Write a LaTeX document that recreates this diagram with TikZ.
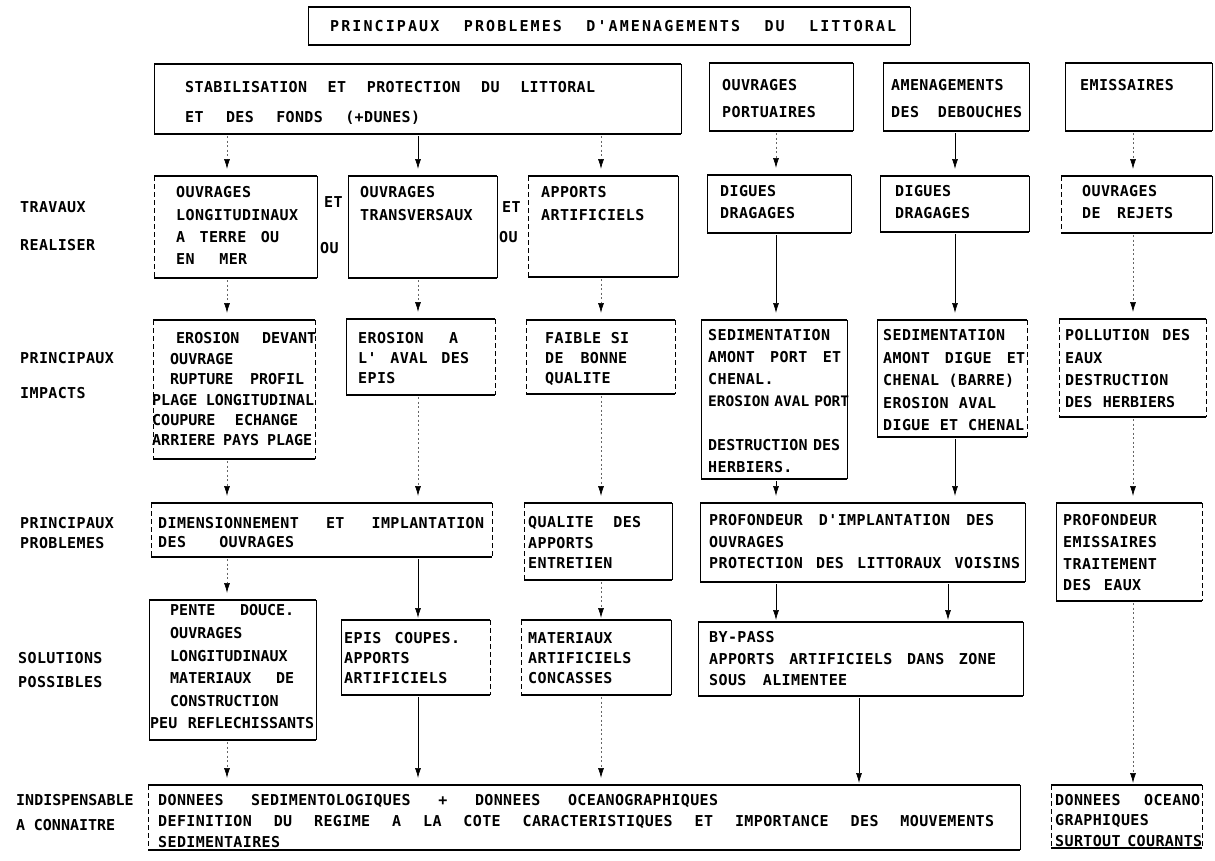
\documentclass[tikz,border=0pt]{standalone}
\usepackage{fontspec}
\usetikzlibrary{arrows.meta}
\newfontfamily\lt{DejaVu Sans Mono}[LetterSpace=2.5]
\newfontfamily\ltn{DejaVu Sans Mono}
\newfontfamily\ltw{DejaVu Sans Mono}[LetterSpace=14]
% a line of text spread to a given width (in pt) by its word spaces
\newcommand\fitline[2]{\makebox[#1pt][s]{\spaceskip 4pt plus 1fill minus 3pt\relax #2}}
% frame of a box: heavy top and bottom rules, side rules in the given styles
\newcommand\frameit[3]{%
  \draw[hl] (#1.north west) -- (#1.north east);
  \draw[hl] (#1.south west) -- (#1.south east);
  \draw[#2] (#1.north west) -- (#1.south west);
  \draw[#3] (#1.north east) -- (#1.south east);}
% box from its top-left and bottom-right corners
\newcommand\mkbox[7]{%
  \node[box, minimum width={(#4-#2)*1pt}, minimum height={(#5-#3)*1pt}] (#1) at (#2,#3) {};
  \frameit{#1}{#6}{#7}}
\tikzset{
  box/.style={rectangle, anchor=north west, inner sep=0pt, outer sep=0pt},
  hl/.style={line width=1.1pt},
  vs/.style={line width=0.75pt},
  vd/.style={line width=0.7pt, dash pattern=on 5pt off 3pt},
  txt/.style={anchor=north west, inner sep=0pt, align=left,
    font={\lt\bfseries\fontsize{15}{#1}\selectfont\spaceskip 13pt\relax\frenchspacing}},
  txt/.default=22,
  txtn/.style={anchor=north west, inner sep=0pt, align=left,
    font={\ltn\bfseries\fontsize{15}{#1}\selectfont\spaceskip 13pt\relax\frenchspacing}},
  txtn/.default=22,
  arr/.style={line width=0.7pt, -{Latex[length=10pt,width=6pt]}, shorten <=2pt, shorten >=7pt},
  arrd/.style={arr, draw=black!60, dash pattern=on 2pt off 2.5pt,
    -{Latex[length=10pt,width=6pt,color=black]}},
  closegap/.style={shorten >=2pt}
}
\begin{document}
\begin{tikzpicture}[x=1pt,y=-1pt]
\fill[white] (0,0) rectangle (1215,860);
\useasboundingbox (0,0) rectangle (1215,860);

% abscissae of the vertical connectors
\coordinate (c1) at (227,0);
\coordinate (c2) at (418,0);
\coordinate (c3) at (601,0);
\coordinate (c4) at (776,0);
\coordinate (c5) at (955,0);
\coordinate (c5b) at (948,0);
\coordinate (c6) at (1133,0);
\coordinate (c7) at (859,0);

% ---- boxes
\mkbox{title}{308}{7}{910}{45}{vs}{vs}
\mkbox{stab}{154}{64}{681}{134}{vs}{vs}
\mkbox{port}{709}{63}{853}{131}{vs}{vs}
\mkbox{deb}{883}{63}{1029}{131}{vs}{vs}
\mkbox{emi}{1065}{63}{1212}{131}{vs}{vs}

\mkbox{lon}{154}{176}{317}{278}{vd}{vs}
\mkbox{tra}{348}{176}{497}{278}{vs}{vs}
\mkbox{app}{528}{176}{678}{277}{vd}{vs}
\mkbox{dig}{707}{175}{851}{233}{vs}{vs}
\mkbox{digb}{880}{176}{1029}{232}{vs}{vs}
\mkbox{rej}{1061}{176}{1212}{233}{vd}{vs}

\mkbox{ilon}{153}{320}{315}{459}{vd}{vd}
\mkbox{itra}{346}{319}{495}{395}{vs}{vd}
\mkbox{iapp}{526}{320}{675}{394}{vd}{vd}
\mkbox{sedp}{701}{320}{847}{479}{vs}{vs}
\mkbox{sedd}{877}{320}{1027}{437}{vs}{vd}
\mkbox{pol}{1059}{319}{1206}{417}{vd}{vd}

\mkbox{dim}{151}{503}{492}{557}{vd}{vd}
\mkbox{qua}{524}{503}{672}{580}{vd}{vs}
\mkbox{pro}{700}{503}{1025}{582}{vs}{vs}
\mkbox{proe}{1056}{503}{1202}{601}{vs}{vd}

\mkbox{pen}{149}{600}{316}{740}{vs}{vs}
\mkbox{epi}{341}{620}{490}{695}{vs}{vd}
\mkbox{mat}{521}{620}{671}{695}{vd}{vs}
\mkbox{byp}{698}{622}{1023}{696}{vs}{vs}

\mkbox{dat}{148}{785}{1020}{850}{vd}{vs}
\mkbox{datb}{1051}{785}{1202}{848}{vd}{vd}

% ---- texts
\node[txt] (titleT) at (330,20.5) {\ltw\fitline{566}{PRINCIPAUX PROBLEMES D'AMENAGEMENTS DU LITTORAL}};
\node[txt=30] (stabT) at (185,81.5) {\fitline{410}{STABILISATION ET PROTECTION DU LITTORAL}\\\fitline{235}{ET DES FONDS (+DUNES)}};
\node[txt=27] (portT) at (722,79.5) {OUVRAGES\\PORTUAIRES};
\node[txt=27] (debT) at (891,79.5) {AMENAGEMENTS\\\fitline{131}{DES DEBOUCHES}};
\node[txt] (emiT) at (1080,79.5) {EMISSAIRES};

\node[txt=22.3] (lonT) at (176,186.5) {OUVRAGES\\LONGITUDINAUX\\\fitline{103}{A TERRE OU}\\\fitline{71}{EN MER}};
\node[txt=23] (traT) at (360,186.5) {OUVRAGES\\TRANSVERSAUX};
\node[txt=23] (appT) at (541,186.5) {APPORTS\\ARTIFICIELS};
\node[txt] (digT) at (720,185.5) {DIGUES\\DRAGAGES};
\node[txt] (digbT) at (895,185.5) {DIGUES\\DRAGAGES};
\node[txt] (rejT) at (1082,185.5) {OUVRAGES\\\fitline{91}{DE REJETS}};

\node[txt] (et1) at (324,196.5) {ET};
\node[txt] (ou1) at (320,242.5) {OU};
\node[txt] (et2) at (502,201.5) {ET};
\node[txt] (ou2) at (499,231.5) {OU};

\node[txtn=20.4] (ilonT) at (152,332.5) {\hspace{24pt}\fitline{140}{EROSION DEVANT}\\\hspace{18pt}OUVRAGE\\\hspace{18pt}\fitline{134}{RUPTURE PROFIL}\\\fitline{162}{PLAGE LONGITUDINAL}\\\fitline{146}{COUPURE ECHANGE}\\\fitline{160}{ARRIERE PAYS PLAGE}};
\node[txt=20] (itraT) at (358,332.5) {\fitline{100}{EROSION A}\\\fitline{111}{L' AVAL DES}\\EPIS};
\node[txt=20] (iappT) at (545,332.5) {\fitline{84}{FAIBLE SI}\\\fitline{82}{DE BONNE}\\QUALITE};
\node[txt=22] (sedpT) at (708,329.5) {SEDIMENTATION\\\fitline{133}{AMONT PORT ET}\\CHENAL.\\\fitline{141}{\ltn\fontsize{14.5}{22}\selectfont EROSION AVAL PORT}\\[22pt]\fitline{132}{\ltn DESTRUCTION DES}\\HERBIERS.};
\node[txt=22.5] (seddT) at (883,329.5) {SEDIMENTATION\\\fitline{142}{AMONT DIGUE ET}\\\fitline{131}{CHENAL (BARRE)}\\\fitline{113}{EROSION AVAL}\\\fitline{141}{DIGUE ET CHENAL}};
\node[txt=22.3] (polT) at (1065,329.5) {\fitline{125}{POLLUTION DES}\\EAUX\\DESTRUCTION\\\fitline{110}{\ltn DES HERBIERS}};

\node[txt=19.5] (dimT) at (158,517) {\fitline{326}{DIMENSIONNEMENT ET IMPLANTATION}\\\fitline{136}{DES OUVRAGES}};
\node[txt=20.5] (quaT) at (528,516.5) {\fitline{113}{QUALITE DES}\\APPORTS\\ENTRETIEN};
\node[txt=21.5] (proT) at (709,514.5) {\fitline{285}{PROFONDEUR D'IMPLANTATION DES}\\OUVRAGES\\\fitline{311}{PROTECTION DES LITTORAUX VOISINS}};
\node[txt=21.7] (proeT) at (1063,514.5) {PROFONDEUR\\EMISSAIRES\\TRAITEMENT\\\fitline{78}{DES EAUX}};

\node[txtn=22.6] (penT) at (150,604.5) {\hspace{20pt}\fitline{124}{PENTE DOUCE.}\\\hspace{20pt}OUVRAGES\\\hspace{20pt}LONGITUDINAUX\\\hspace{20pt}\fitline{124}{MATERIAUX DE}\\\hspace{20pt}CONSTRUCTION\\\fitline{164}{PEU REFLECHISSANTS}};
\node[txt=20] (epiT) at (344,632.5) {\fitline{116}{EPIS COUPES.}\\APPORTS\\ARTIFICIELS};
\node[txt=20] (matT) at (528,632.5) {MATERIAUX\\ARTIFICIELS\\CONCASSES};
\node[txt=21.5] (bypT) at (709,631.5) {BY-PASS\\\fitline{287}{APPORTS ARTIFICIELS DANS ZONE}\\\fitline{138}{SOUS ALIMENTEE}};

\node[txt=21] (datT) at (158,794.5) {\fitline{560}{DONNEES SEDIMENTOLOGIQUES + DONNEES OCEANOGRAPHIQUES}\\\fitline{836}{DEFINITION DU REGIME A LA COTE CARACTERISTIQUES ET IMPORTANCE DES MOUVEMENTS}\\SEDIMENTAIRES};
\node[txt=20.5] (datbT) at (1055,794) {\fitline{145}{DONNEES OCEANO}\\GRAPHIQUES\\\fitline{147}{SURTOUT COURANTS}};

% ---- row labels
\node[txt=38] (lab1) at (20,201.5) {TRAVAUX\\REALISER};
\node[txt=35] (lab2) at (20,352.5) {PRINCIPAUX\\IMPACTS};
\node[txt=19.5] (lab3) at (20,517.5) {PRINCIPAUX\\PROBLEMES};
\node[txt=24] (lab4) at (18,652.5) {SOLUTIONS\\POSSIBLES};
\node[txtn=25] (lab5) at (16,794.5) {INDISPENSABLE\\\fitline{99}{A CONNAITRE}};

% ---- connectors
\draw[arrd] (stab.south -| c1) -- (lon.north -| c1);
\draw[arr]  (stab.south -| c2) -- (tra.north -| c2);
\draw[arrd] (stab.south -| c3) -- (app.north -| c3);
\draw[arrd] (port.south -| c4) -- (dig.north -| c4);
\draw[arr]  (deb.south -| c5) -- (digb.north -| c5);
\draw[arrd] (emi.south -| c6) -- (rej.north -| c6);

\draw[arrd] (lon.south -| c1) -- (ilon.north -| c1);
\draw[arrd] (tra.south -| c2) -- (itra.north -| c2);
\draw[arrd] (app.south -| c3) -- (iapp.north -| c3);
\draw[arr]  (dig.south -| c4) -- (sedp.north -| c4);
\draw[arr]  (digb.south -| c5) -- (sedd.north -| c5);
\draw[arrd] (rej.south -| c6) -- (pol.north -| c6);

\draw[arrd] (ilon.south -| c1) -- (dim.north -| c1);
\draw[arrd] (itra.south -| c2) -- (dim.north -| c2);
\draw[arrd] (iapp.south -| c3) -- (qua.north -| c3);
\draw[arr]  (sedp.south -| c4) -- (pro.north -| c4);
\draw[arr]  (sedd.south -| c5) -- (pro.north -| c5);
\draw[arrd] (pol.south -| c6) -- (proe.north -| c6);

\draw[arrd] (dim.south -| c1) -- (pen.north -| c1);
\draw[arr, closegap]  (dim.south -| c2) -- (epi.north -| c2);
\draw[arrd, closegap] (qua.south -| c3) -- (mat.north -| c3);
\draw[arr, closegap]  (pro.south -| c4) -- (byp.north -| c4);
\draw[arr, closegap]  (pro.south -| c5b) -- (byp.north -| c5b);
\draw[arrd, closegap] (proe.south -| c6) -- (datb.north -| c6);

\draw[arrd] (pen.south -| c1) -- (dat.north -| c1);
\draw[arr]  (epi.south -| c2) -- (dat.north -| c2);
\draw[arrd] (mat.south -| c3) -- (dat.north -| c3);
\draw[arr, closegap] (byp.south -| c7) -- (dat.north -| c7);
\end{tikzpicture}
\end{document}
